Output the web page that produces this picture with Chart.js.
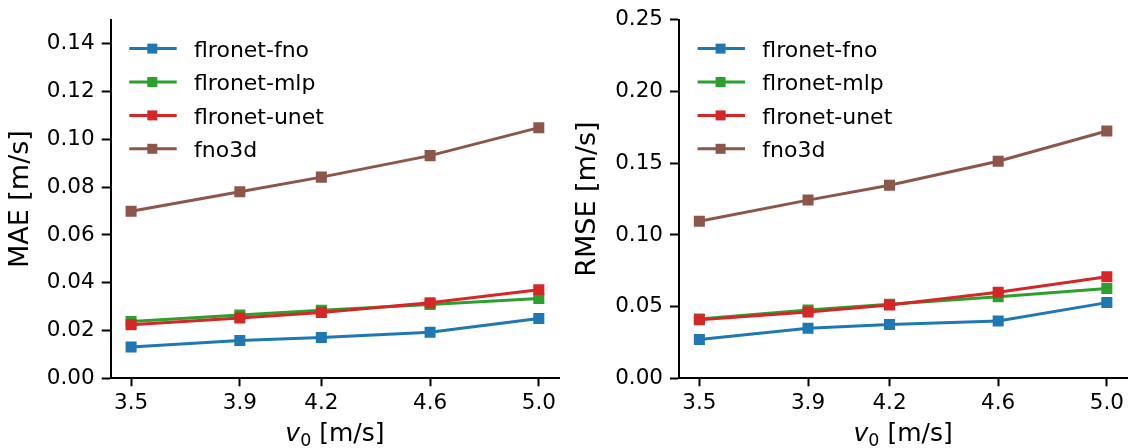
<!DOCTYPE html>
<html>
<head>
<meta charset="utf-8">
<script src="https://cdn.jsdelivr.net/npm/chart.js@4"></script>
<style>
html, body { margin: 0; padding: 0; background: #fff; }
#wrap { position: relative; width: 1135px; height: 448px; overflow: hidden; }
.box { position: absolute; top: 0; height: 448px; }
</style>
</head>
<body>
<div id="wrap">
    <div class="box" style="left:0;width:567px"><canvas id="maeCanvas" width="567" height="448"></canvas></div>
    <div class="box" style="left:567px;width:568px"><canvas id="rmseCanvas" width="568" height="448"></canvas></div>
</div>
<script>
// inlet velocity v0 [m/s]
const velocities = [3.5, 3.9, 4.2, 4.6, 5.0];
const models = ["flronet-fno", "flronet-mlp", "flronet-unet", "fno3d"];
const colors = ["#1f77b4", "#2ca02c", "#d62728", "#8c564b"];

// MAE [m/s]
const maeFno   = [0.0131, 0.0158, 0.0171, 0.0193, 0.0250];
const maeMlp   = [0.0238, 0.0265, 0.0285, 0.0309, 0.0334];
const maeUnet  = [0.0224, 0.0252, 0.0275, 0.0316, 0.0371];
const maeFno3d = [0.0699, 0.0781, 0.0842, 0.0932, 0.1049];

// RMSE [m/s]
const rmseFno   = [0.0271, 0.0349, 0.0376, 0.0399, 0.0528];
const rmseMlp   = [0.0413, 0.0477, 0.0516, 0.0569, 0.0626];
const rmseUnet  = [0.0408, 0.0463, 0.0511, 0.0601, 0.0709];
const rmseFno3d = [0.1096, 0.1243, 0.1346, 0.1514, 0.1725];

const maeTicks  = [0, 0.02, 0.04, 0.06, 0.08, 0.10, 0.12, 0.14];
const rmseTicks = [0, 0.05, 0.10, 0.15, 0.20, 0.25];

const FONT = "DejaVu Sans";

function makeDatasets(series) {
    return series.map((vals, i) => ({
        label: models[i],
        data: velocities.map((v, j) => ({ x: v, y: vals[j] })),
        borderColor: colors[i],
        backgroundColor: colors[i],
        borderWidth: 3,
        pointStyle: "rect",
        pointRadius: 7.8,
        pointBorderWidth: 0,
        pointHoverRadius: 7.8,
        order: series.length - i,  // later series drawn on top
        tension: 0
    }));
}

// matplotlib-like legend (line + square marker) and italic v0 axis label
const overlay = {
    id: "overlay",
    afterDraw(chart) {
        const ctx = chart.ctx;
        const a = chart.chartArea;
        ctx.save();
        chart.data.datasets.forEach((ds, i) => {
            const y = a.top + 28.7 + i * 33.4;
            ctx.strokeStyle = ds.borderColor;
            ctx.lineWidth = 3;
            ctx.beginPath();
            ctx.moveTo(a.left + 18.6, y);
            ctx.lineTo(a.left + 66, y);
            ctx.stroke();
            ctx.fillStyle = ds.borderColor;
            ctx.fillRect(a.left + 41.6 - 5, y - 5, 10, 10);
            ctx.fillStyle = "#000";
            ctx.font = "22px " + FONT;
            ctx.textBaseline = "alphabetic";
            ctx.textAlign = "left";
            ctx.fillText(ds.label, a.left + 83.3, y + 8.3);
        });

        // x label: v_0 [m/s]
        const size = 25;
        const base = 441;
        ctx.font = "italic " + size + "px " + FONT;
        const wv = ctx.measureText("v").width;
        ctx.font = (size * 0.7) + "px " + FONT;
        const w0 = ctx.measureText("0").width;
        ctx.font = size + "px " + FONT;
        const rest = " [m/s]";
        const wr = ctx.measureText(rest).width;
        let x = (a.left + a.right) / 2 - (wv + w0 + wr) / 2;
        ctx.fillStyle = "#000";
        ctx.textBaseline = "alphabetic";
        ctx.font = "italic " + size + "px " + FONT;
        ctx.fillText("v", x, base);
        x += wv;
        ctx.font = (size * 0.7) + "px " + FONT;
        ctx.fillText("0", x, base + 4.5);
        x += w0;
        ctx.font = size + "px " + FONT;
        ctx.fillText(rest, x, base);
        ctx.restore();
    }
};

function makeChart(canvas, series, yTicks, yMax, yTitle, padRight) {
    return new Chart(canvas, {
        type: "line",
        data: { datasets: makeDatasets(series) },
        plugins: [overlay],
        options: {
            responsive: false,
            animation: false,
            layout: { padding: { top: 15.3, right: padRight, left: 0, bottom: 0 } },
            plugins: { legend: { display: false }, tooltip: { enabled: false } },
            scales: {
                x: {
                    type: "linear",
                    min: 3.425,
                    max: 5.075,
                    afterBuildTicks: s => { s.ticks = velocities.map(v => ({ value: v })); },
                    afterFit: s => { s.height = 69.7; },
                    grid: { drawOnChartArea: false, drawTicks: true, tickLength: 8, tickWidth: 2, tickColor: "#000" },
                    border: { display: true, color: "#000", width: 2 },
                    ticks: {
                        color: "#000",
                        font: { family: FONT, size: 21.5 },
                        padding: 4,
                        maxRotation: 0,
                        autoSkip: false,
                        callback: v => v.toFixed(1)
                    }
                },
                y: {
                    min: 0,
                    max: yMax,
                    afterBuildTicks: s => { s.ticks = yTicks.map(v => ({ value: v })); },
                    afterFit: s => { s.width = canvas.id === "maeCanvas" ? 110.7 : 112; },
                    grid: { drawOnChartArea: false, drawTicks: true, tickLength: 9, tickWidth: 2, tickColor: "#000" },
                    border: { display: true, color: "#000", width: 2 },
                    ticks: {
                        color: "#000",
                        font: { family: FONT, size: 21.5 },
                        padding: 7,
                        autoSkip: false,
                        callback: v => v.toFixed(2)
                    },
                    title: {
                        display: true,
                        text: yTitle,
                        color: "#000",
                        font: { family: FONT, size: 27, lineHeight: 1.2 },
                        padding: { top: 5, bottom: 0 }
                    }
                }
            }
        }
    });
}

makeChart(document.getElementById("maeCanvas"),
    [maeFno, maeMlp, maeUnet, maeFno3d], maeTicks, 0.15, "MAE [m/s]", 2);
makeChart(document.getElementById("rmseCanvas"),
    [rmseFno, rmseMlp, rmseUnet, rmseFno3d], rmseTicks, 0.25, "RMSE [m/s]", 3.7);
</script>
</body>
</html>
